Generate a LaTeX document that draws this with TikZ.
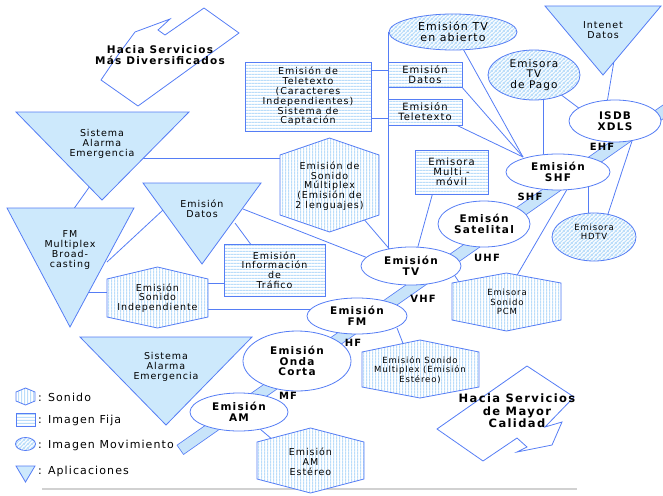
\documentclass[tikz,border=0pt]{standalone}
\usepackage{fontspec}
\setmainfont{DejaVu Sans}[LetterSpace=10,BoldFeatures={LetterSpace=12}]
\usetikzlibrary{shapes.geometric,patterns,calc}
\definecolor{bdr}{RGB}{85,125,245}
\definecolor{lfill}{RGB}{205,233,252}
\definecolor{stripe}{RGB}{186,221,250}
\definecolor{bandfill}{RGB}{200,228,250}
\pgfdeclarelayer{bg}
\pgfsetlayers{bg,main}
\pgfdeclarepatternformonly{hstripes}{\pgfqpoint{0pt}{0pt}}{\pgfqpoint{3pt}{3pt}}{\pgfqpoint{3pt}{3pt}}{%
  \pgfsetlinewidth{1.4pt}\pgfpathmoveto{\pgfqpoint{-0.5pt}{0.75pt}}\pgfpathlineto{\pgfqpoint{3.5pt}{0.75pt}}\pgfusepath{stroke}}
\pgfdeclarepatternformonly{vstripes}{\pgfqpoint{0pt}{0pt}}{\pgfqpoint{3pt}{3pt}}{\pgfqpoint{3pt}{3pt}}{%
  \pgfsetlinewidth{1.4pt}\pgfpathmoveto{\pgfqpoint{0.75pt}{-0.5pt}}\pgfpathlineto{\pgfqpoint{0.75pt}{3.5pt}}\pgfusepath{stroke}}
\pgfdeclarepatternformonly{dstripes}{\pgfqpoint{0pt}{0pt}}{\pgfqpoint{4pt}{4pt}}{\pgfqpoint{4pt}{4pt}}{%
  \pgfsetlinewidth{1.3pt}%
  \pgfpathmoveto{\pgfqpoint{-1pt}{-1pt}}\pgfpathlineto{\pgfqpoint{5pt}{5pt}}%
  \pgfpathmoveto{\pgfqpoint{-1pt}{3pt}}\pgfpathlineto{\pgfqpoint{1pt}{5pt}}%
  \pgfpathmoveto{\pgfqpoint{3pt}{-1pt}}\pgfpathlineto{\pgfqpoint{5pt}{1pt}}%
  \pgfusepath{stroke}}
\tikzset{
  tri/.style={draw=bdr, line width=0.8pt, fill=lfill},
  hexa/.style={draw=bdr, line width=0.8pt, preaction={fill=white}, pattern=vstripes, pattern color=stripe},
  fija/.style={draw=bdr, line width=0.8pt, preaction={fill=white}, pattern=hstripes, pattern color=stripe, inner sep=0pt},
  movi/.style={ellipse, draw=bdr, line width=0.8pt, preaction={fill=white}, pattern=dstripes, pattern color=stripe, inner sep=0pt},
  emis/.style={ellipse, draw=bdr, line width=0.8pt, fill=white, inner sep=0pt},
  conn/.style={draw=bdr, line width=0.8pt},
  tx/.style={font=\fontsize{9.5}{9.8}\selectfont, align=center, inner sep=0pt},
  mx/.style={font=\fontsize{10}{10}\selectfont, align=center, inner sep=0pt},
  sx/.style={font=\fontsize{8.5}{9.5}\selectfont, align=center, inner sep=0pt},
  bx/.style={font=\fontsize{10.5}{10.5}\selectfont\bfseries, align=center, inner sep=0pt},
  hx/.style={font=\fontsize{10.5}{11}\selectfont\bfseries, align=center, inner sep=0pt},
  lg/.style={font=\fontsize{11}{12}\selectfont, anchor=west, inner sep=0pt},
  arrowshape/.style={draw=bdr, line width=0.8pt},
}
\begin{document}
\begin{tikzpicture}[x=1pt,y=-1pt]
\useasboundingbox (0,0) rectangle (663,495);

% ---------- ellipses ----------
\node[movi, mx, font=\fontsize{11}{11}\selectfont, minimum width=128pt, minimum height=36pt] (abierto) at (453,32) {Emisión TV\\en abierto};
\node[movi, mx, font=\fontsize{10.5}{10.8}\selectfont, minimum width=92pt, minimum height=50pt] (pago) at (534,75) {Emisora\\TV\\de Pago};
\node[emis, bx, minimum width=92pt, minimum height=42pt] (isdb) at (615,121) {ISDB\\XDLS};
\node[emis, bx, minimum width=104pt, minimum height=36pt] (shf) at (558,172) {Emisión\\SHF};
\node[movi, minimum width=84pt, minimum height=48pt] (hdtv) at (594,237) {};
\node[sx] (hdtvt) at (594,232) {Emisora\\HDTV};
\node[emis, bx, minimum width=92pt, minimum height=46pt] (sat) at (484,224) {Emisón\\Satelital};
\node[emis, bx, minimum width=100pt, minimum height=38pt] (tv) at (411,266) {Emisión\\TV};
\node[emis, bx, minimum width=100pt, minimum height=36pt] (fm) at (357,316) {Emisión\\FM};
\node[emis, bx, minimum width=108pt, minimum height=60pt] (oc) at (297,361) {Emisión\\Onda\\Corta};
\node[emis, bx, minimum width=98pt, minimum height=38pt] (am) at (239,412) {Emisión\\AM};

% ---------- rectangles ----------
\node[fija, tx, minimum width=126pt, minimum height=69pt] (telebig) at (308,96.5) {Emisión de\\Teletexto\\(Caracteres\\Independientes)\\Sistema de\\Captación};
\node[fija, mx, minimum width=74pt, minimum height=25pt] (datosbox) at (425,74.5) {Emisión\\Datos};
\node[fija, mx, minimum width=74pt, minimum height=26pt] (telebox) at (425,112) {Emisión\\Teletexto};
\node[fija, mx, minimum width=73pt, minimum height=44pt] (multi) at (451.5,172) {Emisora\\Multi -\\móvil};
\node[fija, tx, minimum width=101pt, minimum height=52pt] (trafico) at (274.5,270) {Emisión\\Información\\de\\Tráfico};

% ---------- hexagons ----------
\path[hexa] (107,279) -- (157.5,267) -- (208,279) -- (208,317) -- (157.5,328) -- (107,317) -- cycle;
\node[tx] (sindep) at (157.5,298) {Emisión\\Sonido\\Independiente};
\path[hexa] (280,155) -- (329.5,138) -- (379,155) -- (379,215) -- (329.5,232) -- (280,215) -- cycle;
\node[tx] (multiplex) at (329.5,186) {Emisión de\\Sonido\\Múltiplex\\(Emisión de\\2 lenguajes)};
\path[hexa] (452,283) -- (506.5,273) -- (561,283) -- (561,320) -- (506.5,331) -- (452,320) -- cycle;
\node[sx] (pcm) at (507,302) {Emisora\\Sonido\\PCM};
\path[hexa] (362,352) -- (420,340) -- (479,352) -- (479,387) -- (420,398) -- (362,387) -- cycle;
\node[sx] (estereo) at (420,370) {Emisión Sonido\\Multiplex (Emisión\\Estéreo)};
\path[hexa] (257,442) -- (310.5,428) -- (364,442) -- (364,479) -- (310.5,493) -- (257,479) -- cycle;
\node[tx] (amest) at (310.5,462) {Emisión\\AM\\Estéreo};

% ---------- triangles ----------
\path[tri] (16,112) -- (189,112) -- (102,200) -- cycle;
\node[tx] (alarma1) at (102,144) {Sistema\\Alarma\\Emergencia};
\path[tri] (7,208) -- (134,208) -- (70,327) -- cycle;
\node[tx] (fmmulti) at (70,250) {FM\\Multiplex\\Broad-\\casting};
\path[tri] (143,183) -- (261,183) -- (202,264) -- cycle;
\node[tx] (datostri) at (202,209) {Emisión\\Datos};
\path[tri] (80,337) -- (252,337) -- (166,425) -- cycle;
\node[tx] (alarma2) at (166,367) {Sistema\\Alarma\\Emergencia};
\path[tri] (545,6) -- (661,6) -- (603,75) -- cycle;
\node[tx] (internet) at (603,30) {Intenet\\Datos};

% ---------- arrow shapes ----------
\draw[arrowshape] (101,80) -- (118,55) -- (135,32) -- (170,19) -- (158,30) -- (165,35) -- (204,8) -- (239,33) -- (138,106) -- cycle;
\node[hx] (hacia1) at (160,55.5) {Hacia Servicios\\Más Diversificados};
\draw[arrowshape] (527,366) -- (574,397) -- (545,427) -- (562,422) -- (552,445) -- (517,452) -- (527,447) -- (517,438) -- (483,461) -- (437,429) -- cycle;
\node[hx, font=\fontsize{11.5}{12.5}\selectfont\bfseries] (hacia2) at (517,411) {Hacia Servicios\\de Mayor\\Calidad};

% ---------- band labels ----------
\node[bx, font=\fontsize{10}{10}\selectfont\bfseries] (lmf) at (288,396) {MF};
\node[bx, font=\fontsize{10}{10}\selectfont\bfseries] (lhf) at (353,343) {HF};
\node[bx, font=\fontsize{10}{10}\selectfont\bfseries] (lvhf) at (423,299) {VHF};
\node[bx, font=\fontsize{10}{10}\selectfont\bfseries] (luhf) at (487,258) {UHF};
\node[bx, font=\fontsize{10}{10}\selectfont\bfseries] (lshf) at (530,197) {SHF};
\node[bx, font=\fontsize{10}{10}\selectfont\bfseries] (lehf) at (602,147) {EHF};

% ---------- legend ----------
\path[hexa] (16,392) -- (25.5,388) -- (35,392) -- (35,401) -- (25.5,405) -- (16,401) -- cycle;
\node[lg] (lsonido) at (38,397) {: Sonido};
\path[fija] (16,413) rectangle (35,426);
\node[lg] (lfija) at (38,420) {: Imagen Fija};
\node[movi, minimum width=20pt, minimum height=13pt] (lmovi) at (25.5,444) {};
\node[lg] (lmovt) at (38,445) {: Imagen Movimiento};
\path[tri] (16,466) -- (35,466) -- (25.5,482) -- cycle;
\node[lg] (lapl) at (38,471) {: Aplicaciones};

% ---------- background: band, connectors ----------
\begin{pgfonlayer}{bg}
\coordinate (g1) at (42,489); \coordinate (g2) at (577,489);
\draw[black!18, line width=1.5pt] (g1) -- (g2);
\coordinate (bandA) at (180,450); \coordinate (bandB) at (680,100);
\draw[bdr, line width=12pt] (bandA) -- (bandB);
\draw[bandfill, line width=10.4pt, shorten <=0.8pt] (bandA) -- (bandB);

\coordinate (a1) at (90,186); \coordinate (a2) at (73,210);
\draw[conn] (a1) -- (a2);
\coordinate (a3) at (143,158); \coordinate (a4) at (282,158);
\draw[conn] (a3) -- (a4);
\coordinate (a5) at (163,210); \coordinate (a6) at (107,262);
\draw[conn] (a5) -- (a6);
\coordinate (a7) at (243,209);
\draw[conn] (a7) -- (tv.169);
\coordinate (a8) at (235,223); \coordinate (a9) at (252,246);
\draw[conn] (a8) -- (a9);
\coordinate (a10) at (88,292); \coordinate (a11) at (109,292);
\draw[conn] (a10) -- (a11);
\coordinate (a12) at (206,283); \coordinate (a13) at (226,283);
\draw[conn] (a12) -- (a13);
\coordinate (a14) at (206,309); \coordinate (a15) at (315,309);
\draw[conn] (a14) -- (a15);
\coordinate (a16) at (362,217); \coordinate (a17) at (392,252);
\draw[conn] (a16) -- (a17);
\coordinate (a18) at (369,70); \coordinate (a19) at (389,70);
\coordinate (a20) at (369,118); \coordinate (a21) at (389,118);
\draw[conn] (a18) -- (a19);
\draw[conn] (a20) -- (a21);
\draw[conn] (abierto.west) -- (abierto.west |- tv.center);
\coordinate (cv) at (523,157);
\coordinate (a22) at (462,47);
\draw[conn] (a22) -- (cv);
\coordinate (a23) at (460,85);
\draw[conn] (a23) -- (cv);
\coordinate (a24) at (452,123);
\draw[conn] (a24) -- (cv);
\coordinate (a25) at (543,97); \coordinate (a26) at (543,160);
\draw[conn] (a25) -- (a26);
\coordinate (a27) at (560,94); \coordinate (a28) at (580,109);
\draw[conn] (a27) -- (a28);
\coordinate (a29) at (615,55); \coordinate (a30) at (607,103);
\draw[conn] (a29) -- (a30);
\coordinate (a31) at (588,185); \coordinate (a32) at (588,216);
\draw[conn] (a31) -- (a32);
\coordinate (a33) at (633,138); \coordinate (a34) at (607,217);
\draw[conn] (a33) -- (a34);
\coordinate (a35) at (433,192); \coordinate (a36) at (417,250);
\draw[conn] (a35) -- (a36);
\coordinate (a37) at (451,270); \coordinate (a38) at (461,285);
\draw[conn] (a37) -- (a38);
\coordinate (a39) at (516,277); \coordinate (a40) at (569,186);
\draw[conn] (a39) -- (a40);
\coordinate (a41) at (397,328); \coordinate (a42) at (404,346);
\draw[conn] (a41) -- (a42);
\coordinate (a43) at (260,429); \coordinate (a44) at (273,440);
\draw[conn] (a43) -- (a44);
\end{pgfonlayer}
\end{tikzpicture}
\end{document}
